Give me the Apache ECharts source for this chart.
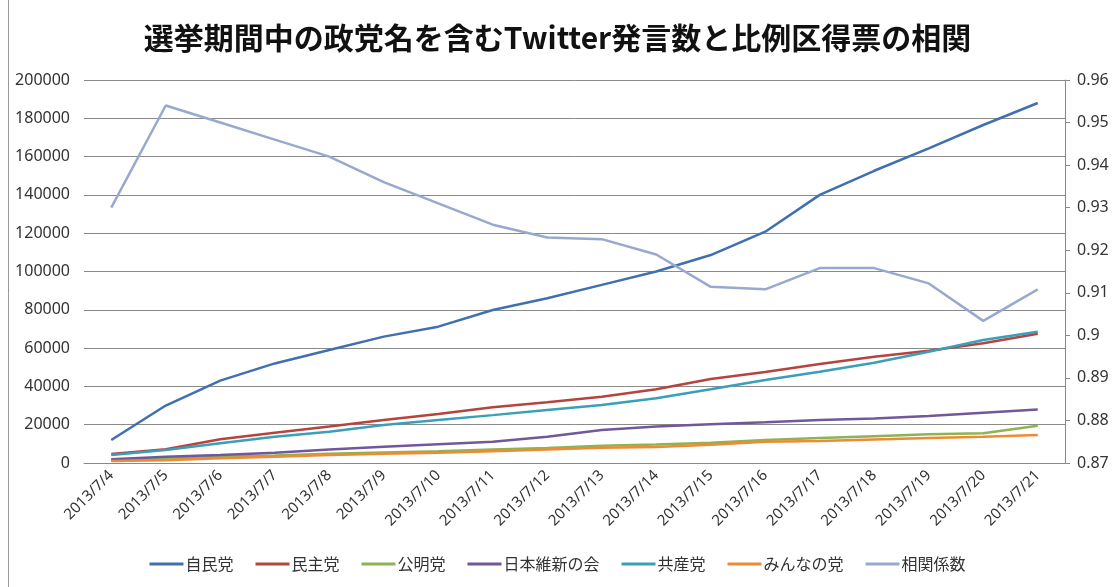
<!DOCTYPE html>
<html>
<head>
<meta charset="utf-8">
<script src="https://cdn.jsdelivr.net/npm/echarts@6/dist/echarts.min.js"></script>
<style>
html, body { margin: 0; padding: 0; background: #fff; }
#main { width: 1115px; height: 587px; }
</style>
</head>
<body>
<div id="main"></div>
<script>
var dates = ['2013/7/4', '2013/7/5', '2013/7/6', '2013/7/7', '2013/7/8', '2013/7/9',
    '2013/7/10', '2013/7/11', '2013/7/12', '2013/7/13', '2013/7/14', '2013/7/15',
    '2013/7/16', '2013/7/17', '2013/7/18', '2013/7/19', '2013/7/20', '2013/7/21'];

var jimin   = [12000, 30000, 43000, 52000, 59000, 66000, 71200, 79900, 86000, 93000, 100000, 108600, 120800, 140000, 152600, 164300, 176500, 188000];
var minshu  = [4700, 7200, 12400, 15800, 19000, 22400, 25600, 29100, 31700, 34600, 38500, 43900, 47500, 51700, 55500, 58600, 62500, 67500];
var komei   = [1500, 2200, 3200, 3900, 4800, 5500, 6200, 7000, 7800, 9000, 9600, 10600, 12000, 13000, 14000, 15000, 15500, 19500];
var ishin   = [2000, 3300, 4200, 5400, 7100, 8500, 9800, 11100, 13700, 17200, 19000, 20200, 21300, 22500, 23300, 24500, 26300, 28000];
var kyosan  = [4200, 6800, 10300, 13700, 16300, 19800, 22500, 25000, 27700, 30300, 33800, 38500, 43300, 47700, 52400, 58100, 64200, 68500];
var minna   = [1000, 1500, 2500, 3200, 4200, 4800, 5400, 6200, 7000, 8000, 8300, 9500, 11100, 11500, 12300, 13000, 13700, 14600];
var soukan  = [0.930, 0.954, 0.950, 0.946, 0.942, 0.936, 0.931, 0.926, 0.923, 0.9226, 0.919, 0.9114, 0.9108, 0.9158, 0.9158, 0.9122, 0.9034, 0.9108];

var font = '"Noto Sans", "Noto Sans CJK JP", sans-serif';
var cjk = '"Noto Sans CJK JP", sans-serif';

function line(name, data, color, axis) {
    return {
        name: name,
        type: 'line',
        yAxisIndex: axis || 0,
        data: data,
        symbol: 'none',
        color: color,
        lineStyle: { width: 2.5, color: color },
        animation: false
    };
}

var chart = echarts.init(document.getElementById('main'));
chart.setOption({
    backgroundColor: '#fff',
    title: {
        text: '選挙期間中の政党名を含むTwitter発言数と比例区得票の相関',
        left: 'center',
        top: 18,
        textStyle: { fontFamily: cjk, fontSize: 30, fontWeight: 'bold', color: '#111' }
    },
    graphic: [{
        type: 'line',
        shape: { x1: 8.5, y1: 0, x2: 8.5, y2: 587 },
        style: { stroke: '#999', lineWidth: 1 }
    }],
    legend: {
        bottom: 10,
        left: 'center',
        itemWidth: 34,
        itemHeight: 3,
        itemGap: 22,
        icon: 'rect',
        textStyle: { fontFamily: cjk, fontSize: 16, color: '#333', padding: [0, 0, 0, -3] },
        data: ['自民党', '民主党', '公明党', '日本維新の会', '共産党', 'みんなの党', '相関係数']
    },
    grid: { left: 84, right: 50, top: 80, bottom: 124 },
    xAxis: {
        type: 'category',
        data: dates,
        boundaryGap: true,
        axisLine: { lineStyle: { color: '#888' } },
        axisTick: { show: false },
        axisLabel: { rotate: 45, fontFamily: font, fontSize: 15, color: '#333', margin: 10 }
    },
    yAxis: [{
        type: 'value',
        min: 0,
        max: 200000,
        interval: 20000,
        axisLine: { show: false },
        axisTick: { show: false },
        splitLine: { lineStyle: { color: '#8a8a8a', width: 1 } },
        axisLabel: {
            fontFamily: font, fontSize: 16, color: '#333', margin: 14,
            formatter: function (v) { return String(v); }
        }
    }, {
        type: 'value',
        min: 0.87,
        max: 0.96,
        interval: 0.01,
        position: 'right',
        axisLine: { show: true, lineStyle: { color: '#888' } },
        axisTick: { show: true, inside: false, length: 5, lineStyle: { color: '#888' } },
        splitLine: { show: false },
        axisLabel: {
            fontFamily: font, fontSize: 16, color: '#333', margin: 12,
            formatter: function (v) { return String(+v.toFixed(2)); }
        }
    }],
    series: [
        line('自民党', jimin, '#4070ad'),
        line('民主党', minshu, '#b5443f'),
        line('公明党', komei, '#8db352'),
        line('日本維新の会', ishin, '#71589a'),
        line('共産党', kyosan, '#3a9fb8'),
        line('みんなの党', minna, '#f08a34'),
        line('相関係数', soukan, '#97a9cf', 1)
    ]
});
</script>
</body>
</html>
